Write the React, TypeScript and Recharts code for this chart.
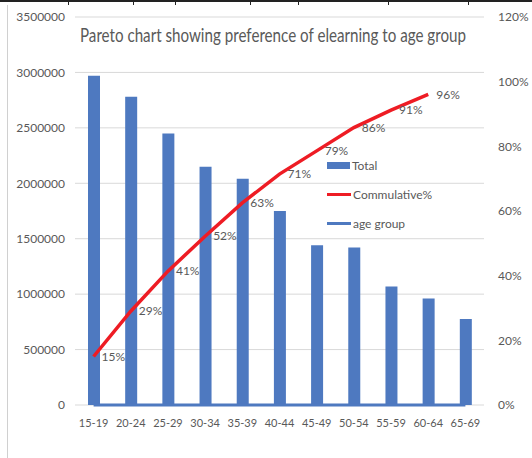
import React from "react";
import {
    ComposedChart,
    Bar,
    Line,
    XAxis,
    YAxis,
    CartesianGrid,
    LabelList,
} from "recharts";

const ageGroups = ["15-19", "20-24", "25-29", "30-34", "35-39", "40-44", "45-49", "50-54", "55-59", "60-64", "65-69"];
const totals = [2970000, 2780000, 2450000, 2150000, 2040000, 1750000, 1440000, 1420000, 1070000, 960000, 775000];
const cumulative = [0.15, 0.29, 0.414, 0.522, 0.625, 0.714, 0.786, 0.858, 0.912, 0.961, null];
const ageGroupValues = [15, 20, 25, 30, 35, 40, 45, 50, 55, 60, 65];
const leftTicks = [0, 500000, 1000000, 1500000, 2000000, 2500000, 3000000, 3500000];
const rightTicks = [0, 0.2, 0.4, 0.6, 0.8, 1.0, 1.2];

const data = ageGroups.map((name, i) => ({
    name,
    total: totals[i],
    cum: cumulative[i],
    age: ageGroupValues[i],
}));

const FONT = "Lato, sans-serif";
const GREY = "#595959";
const BLUE = "#4e79c0";
const RED = "#ee1c24";

const pct = (v: any) => Math.round(Number(v) * 100) + "%";

function LegendBox() {
    const row = { display: "flex", alignItems: "center", height: 29 } as const;
    const txt = { fontSize: 12, color: GREY, marginLeft: 2 };
    return (
        <div style={{ position: "absolute", left: 327, top: 151, fontFamily: FONT }}>
            <div style={row}>
                <div style={{ width: 23, height: 7, background: BLUE }} />
                <span style={txt}>Total</span>
            </div>
            <div style={row}>
                <div style={{ width: 24, height: 3, background: RED }} />
                <span style={txt}>Commulative%</span>
            </div>
            <div style={row}>
                <div style={{ width: 24, height: 3, background: BLUE }} />
                <span style={txt}>age group</span>
            </div>
        </div>
    );
}

export default function App() {
    return (
        <div style={{ position: "absolute", left: 0, top: 0, width: 532, height: 458, background: "#fff", fontFamily: FONT }}>
            {/* spreadsheet edges */}
            <div style={{ position: "absolute", left: 0, top: 0, width: 532, height: 2, background: "#222" }} />
            {[68, 133, 175, 250, 298, 388, 468].map((x) => (
                <div key={x} style={{ position: "absolute", left: x, top: 0, width: 1, height: 5, background: "#222" }} />
            ))}
            <div style={{ position: "absolute", left: 7, top: 5, width: 1, height: 453, background: "#d0d0d0" }} />
            <ComposedChart
                width={532}
                height={458}
                data={data}
                margin={{ top: 17, right: 0, left: 0, bottom: 23 }}
                barCategoryGap={0}
            >
                <text
                    x={80}
                    y={42}
                    textLength={386}
                    lengthAdjust="spacingAndGlyphs"
                    fontSize={19}
                    fill={GREY}
                    fontFamily={FONT}
                >
                    Pareto chart showing preference of elearning to age group
                </text>
                <CartesianGrid yAxisId="left" vertical={false} stroke="#d9d9d9" />
                <XAxis
                    dataKey="name"
                    height={30}
                    axisLine={false}
                    tickLine={false}
                    tick={{ fill: GREY, fontSize: 11, fontFamily: FONT }}
                    tickMargin={8}
                    interval={0}
                />
                <YAxis
                    yAxisId="left"
                    width={75}
                    domain={[0, 3500000]}
                    ticks={leftTicks}
                    axisLine={false}
                    tickLine={false}
                    tick={{ fill: GREY, fontSize: 12, fontFamily: FONT }}
                    tickMargin={4}
                />
                <YAxis
                    yAxisId="right"
                    orientation="right"
                    width={48}
                    domain={[0, 1.2]}
                    ticks={rightTicks}
                    axisLine={false}
                    tickLine={false}
                    tickFormatter={pct}
                    tick={{ fill: GREY, fontSize: 12, fontFamily: FONT }}
                    tickMargin={8}
                />
                <Bar yAxisId="left" dataKey="total" fill={BLUE} barSize={12} isAnimationActive={false} />
                <Line
                    yAxisId="left"
                    dataKey="age"
                    stroke={BLUE}
                    strokeWidth={3}
                    dot={false}
                    isAnimationActive={false}
                />
                <Line
                    yAxisId="right"
                    dataKey="cum"
                    stroke={RED}
                    strokeWidth={3.5}
                    dot={false}
                    isAnimationActive={false}
                >
                    <LabelList dataKey="cum" position="right" offset={8} formatter={pct} fill={GREY} fontSize={12} fontFamily={FONT} />
                </Line>
            </ComposedChart>
            <LegendBox />
        </div>
    );
}
